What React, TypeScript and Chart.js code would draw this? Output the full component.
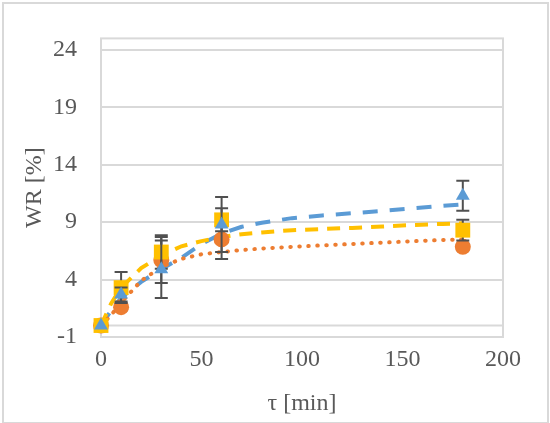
import { useEffect, useRef } from 'react';
import { Chart, registerables } from 'chart.js';

Chart.register(...registerables);

// measured points (min) and their values with error bars
const sampleTimes = [0, 10, 30, 60, 180];
const orangeValues = [0, 1.6, 5.7, 7.5, 6.85];
const orangeErrors = [0, 0.3, 2.0, 1.7, 0.3];
const yellowValues = [0, 3.3, 6.4, 9.2, 8.3];
const yellowErrors = [0, 1.35, 1.45, 1.0, 0.9];
const blueValues = [0, 2.7, 4.9, 8.8, 11.3];
const blueErrors = [0, 0.6, 2.5, 2.4, 1.3];

// trend curves
const trendTimes = [0, 5, 10, 20, 30, 40, 50, 60, 70, 80, 95, 110, 125, 140, 155, 170, 180];
const orangeTrend = [0, 0.9, 2.0, 3.9, 5.1, 5.8, 6.2, 6.4, 6.57, 6.7, 6.85, 6.98, 7.1, 7.22, 7.34, 7.45, 7.5];
const yellowTrend = [0, 1.9, 3.3, 5.0, 6.1, 6.9, 7.35, 7.7, 7.95, 8.1, 8.3, 8.4, 8.5, 8.62, 8.75, 8.85, 8.9];
const blueTrend = [0, 1.3, 2.4, 3.8, 4.9, 5.9, 7.1, 8.0, 8.6, 8.95, 9.35, 9.58, 9.78, 9.98, 10.2, 10.42, 10.55];

const yTicks = [-1, 4, 9, 14, 19, 24];

const ORANGE = '#ED7D31';
const YELLOW = '#FFC000';
const BLUE = '#5B9BD5';
const TEXT = '#595959';
const GRID = '#d9d9d9';
const FONT = { family: "'Liberation Serif', 'DejaVu Serif', serif", size: 24 };

const zip = (xs: number[], ys: number[]) => xs.map((x, i) => ({ x, y: ys[i] }));

const errorBars = {
  id: 'errorBars',
  beforeDatasetDraw(chart: any, args: any) {
    const ds = chart.data.datasets[args.index];
    if (!ds.errors) return;
    const { ctx, scales } = chart;
    ctx.save();
    ctx.strokeStyle = '#505050';
    ctx.lineWidth = 2;
    ds.data.forEach((p: { x: number; y: number }, i: number) => {
      const e = ds.errors[i];
      if (!e) return;
      const px = scales.x.getPixelForValue(p.x);
      const top = scales.y.getPixelForValue(p.y + e);
      const bot = scales.y.getPixelForValue(p.y - e);
      ctx.beginPath();
      ctx.moveTo(px, top);
      ctx.lineTo(px, bot);
      ctx.moveTo(px - 6.5, top);
      ctx.lineTo(px + 6.5, top);
      ctx.moveTo(px - 6.5, bot);
      ctx.lineTo(px + 6.5, bot);
      ctx.stroke();
    });
    ctx.restore();
  },
};

const frame = {
  id: 'frame',
  beforeDatasetsDraw(chart: any) {
    const { ctx, chartArea: a, scales } = chart;
    ctx.save();
    ctx.strokeStyle = GRID;
    ctx.lineWidth = 2;
    ctx.strokeRect(a.left, a.top, a.right - a.left, a.bottom - a.top);
    const zero = scales.y.getPixelForValue(0);
    ctx.beginPath();
    ctx.moveTo(a.left, zero);
    ctx.lineTo(a.right, zero);
    ctx.stroke();
    ctx.restore();
  },
};

export default function App() {
  const canvasRef = useRef<HTMLCanvasElement>(null);

  useEffect(() => {
    document.body.style.margin = '0';
    const canvas = canvasRef.current;
    if (!canvas) return;

    const trend = (data: number[], color: string, dash: number[], cap: string) => ({
      data: zip(trendTimes, data),
      borderColor: color,
      borderWidth: 4,
      borderDash: dash,
      borderCapStyle: cap,
      pointRadius: 0,
      fill: false,
      order: 10,
    });

    const markers = (values: number[], errors: number[], color: string, style: string, radius: number, order: number) => ({
      data: zip(sampleTimes, values),
      errors,
      showLine: false,
      pointStyle: style,
      pointRadius: radius,
      backgroundColor: color,
      borderColor: color,
      pointBorderWidth: 0,
      clip: false,
      order,
    });

    const chart = new Chart(canvas, {
      type: 'line',
      data: {
        datasets: [
          trend(orangeTrend, ORANGE, [0.5, 8.5], 'round'),
          trend(yellowTrend, YELLOW, [13, 9], 'butt'),
          trend(blueTrend, BLUE, [15, 12], 'butt'),
          markers(orangeValues, orangeErrors, ORANGE, 'circle', 8, 3),
          markers(yellowValues, yellowErrors, YELLOW, 'rect', 10.5, 2),
          markers(blueValues, blueErrors, BLUE, 'triangle', 8, 1),
        ] as any,
      },
      options: {
        animation: false,
        responsive: true,
        maintainAspectRatio: false,
        layout: { padding: { top: 33, right: 47, left: 0, bottom: 0 } },
        plugins: {
          legend: { display: false },
          tooltip: { enabled: false },
        },
        scales: {
          x: {
            type: 'linear',
            min: 0,
            max: 200,
            ticks: { stepSize: 50, padding: 8, color: TEXT, font: FONT },
            grid: { display: false, drawTicks: false },
            border: { display: false },
            title: { display: true, text: 'τ [min]', color: TEXT, font: FONT, padding: { top: 0, bottom: 5 } },
            afterFit(s: any) {
              s.height = 86;
            },
          },
          y: {
            type: 'linear',
            min: -1,
            max: 25,
            afterBuildTicks(s: any) {
              s.ticks = yTicks.map((value) => ({ value }));
            },
            ticks: { padding: 24, color: TEXT, font: FONT },
            grid: { color: GRID, lineWidth: 2, drawTicks: false },
            border: { display: false },
            title: { display: true, text: 'WR [%]', color: TEXT, font: FONT, padding: { top: 20, bottom: 0 } },
            afterFit(s: any) {
              s.width = 101;
            },
          },
        },
      } as any,
      plugins: [frame, errorBars],
    });

    return () => chart.destroy();
  }, []);

  return (
    <div style={{ position: 'relative', width: 550, height: 423, background: '#fff' }}>
      <canvas ref={canvasRef} />
      <div
        style={{
          position: 'absolute',
          left: 2,
          top: 2,
          width: 543,
          height: 418,
          border: `2px solid ${GRID}`,
          pointerEvents: 'none',
        }}
      />
    </div>
  );
}
